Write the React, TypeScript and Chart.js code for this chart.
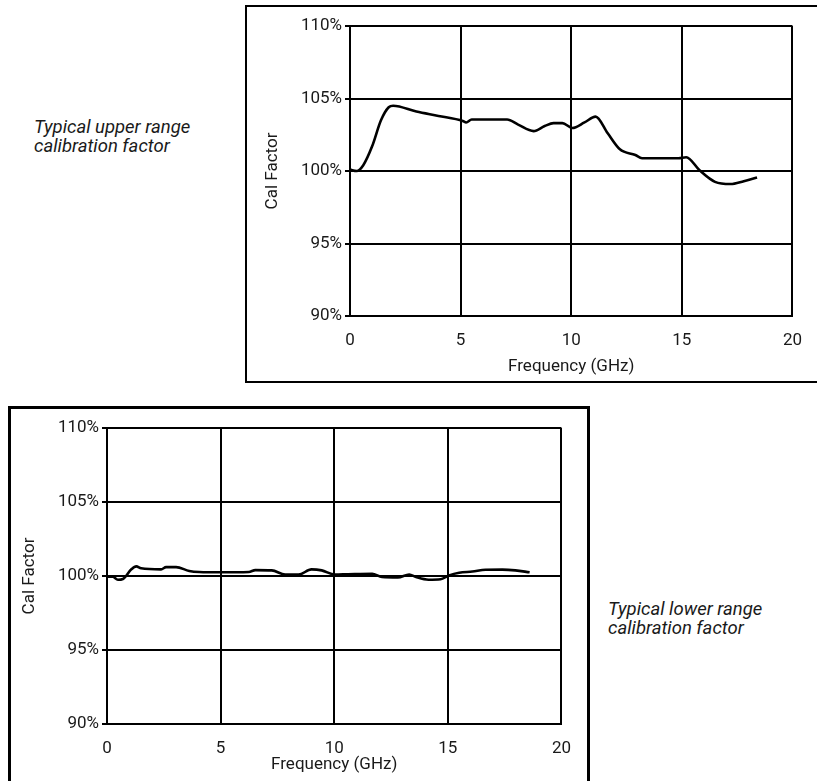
import React, { useEffect, useRef } from "react";
import { Chart, registerables } from "chart.js";

Chart.register(...registerables);

// ---- data ----
const upperFreq = [0, 0.3, 0.6, 1.0, 1.4, 1.75, 1.95, 3, 4, 5.1, 5.25, 5.5, 6.5, 7.1, 7.6, 8.3, 8.8, 9.2, 9.6, 10.05, 10.6, 11.1, 11.65, 12.2, 12.9, 13.2, 14, 14.85, 15.2, 15.8, 16.5, 17.2, 17.8, 18.4];
const upperCal = [100.1, 100.0, 100.4, 101.7, 103.5, 104.4, 104.5, 104.1, 103.8, 103.45, 103.35, 103.55, 103.55, 103.55, 103.2, 102.75, 103.1, 103.3, 103.3, 102.97, 103.35, 103.75, 102.6, 101.5, 101.1, 100.88, 100.88, 100.88, 100.95, 100.05, 99.25, 99.1, 99.3, 99.55];

const lowerFreq = [0, 0.25, 0.48, 0.7, 1.07, 1.29, 1.5, 2.38, 2.6, 3.04, 3.62, 4.06, 5, 6.24, 6.53, 7.25, 7.84, 8.43, 9.0, 9.45, 10.03, 10.6, 11.67, 12.1, 12.8, 13.3, 13.6, 14.15, 14.68, 15.05, 15.5, 16.08, 16.66, 17.4, 17.97, 18.6];
const lowerCal = [99.95, 99.95, 99.75, 99.8, 100.45, 100.65, 100.52, 100.45, 100.6, 100.6, 100.34, 100.27, 100.25, 100.27, 100.4, 100.38, 100.1, 100.09, 100.45, 100.38, 100.1, 100.12, 100.15, 99.93, 99.9, 100.1, 99.93, 99.75, 99.78, 100.04, 100.22, 100.3, 100.42, 100.43, 100.38, 100.25];

const xTicks = [0, 5, 10, 15, 20];
const yTicks = [90, 95, 100, 105, 110];
const xTitle = "Frequency (GHz)";
const yTitle = "Cal Factor";
const upperNote = ["Typical upper range", "calibration factor"];
const lowerNote = ["Typical lower range", "calibration factor"];

const FONT = "'Liberation Sans Narrow', 'Arial Narrow', Roboto, sans-serif";
const INK = "#1a1a1a";
const FS = 17;

type Layout = {
  left: number; top: number; width: number; height: number;
  yAxisW: number; xAxisH: number; padTop: number; padRight: number;
  yTitlePad: number; xTitlePad: number;
};

function CalChart({ xs, ys, L }: { xs: number[]; ys: number[]; L: Layout }) {
  const ref = useRef<HTMLCanvasElement | null>(null);
  useEffect(() => {
    const ctx = ref.current!;
    const chart = new Chart(ctx, {
      type: "line",
      data: {
        datasets: [
          {
            data: xs.map((x, i) => ({ x, y: ys[i] })),
            borderColor: "#000",
            borderWidth: 2.6,
            pointRadius: 0,
            tension: 0.35,
            cubicInterpolationMode: "monotone",
            fill: false,
          },
        ],
      },
      options: {
        animation: false,
        responsive: false,
        maintainAspectRatio: false,
        layout: { padding: { left: 0, top: L.padTop, right: L.padRight, bottom: 0 } },
        plugins: { legend: { display: false }, tooltip: { enabled: false } },
        scales: {
          x: {
            type: "linear",
            min: 0,
            max: 20,
            afterBuildTicks: (s: any) => { s.ticks = xTicks.map((v) => ({ value: v })); },
            afterFit: (s: any) => { s.height = L.xAxisH; },
            grid: { color: "#000", lineWidth: 2, drawTicks: false },
            border: { color: "#000", width: 2 },
            ticks: { color: INK, font: { family: FONT, size: FS }, padding: 15, maxRotation: 0 },
            title: {
              display: true, text: xTitle, color: INK,
              font: { family: FONT, size: FS }, padding: { top: 0, bottom: L.xTitlePad },
            },
          },
          y: {
            type: "linear",
            min: 90,
            max: 110,
            afterBuildTicks: (s: any) => { s.ticks = yTicks.map((v) => ({ value: v })); },
            afterFit: (s: any) => { s.width = L.yAxisW; },
            grid: { color: "#000", lineWidth: 2, drawTicks: true, tickLength: 5 },
            border: { color: "#000", width: 2 },
            ticks: {
              color: INK, font: { family: FONT, size: FS }, padding: 3,
              callback: (v: any) => v + "%",
            },
            title: {
              display: true, text: yTitle, color: INK,
              font: { family: FONT, size: FS }, padding: { top: L.yTitlePad, bottom: 0 },
            },
          },
        },
      },
    } as any);
    return () => chart.destroy();
  }, []);
  return (
    <canvas
      ref={ref}
      width={L.width}
      height={L.height}
      style={{ position: "absolute", left: L.left, top: L.top, width: L.width, height: L.height }}
    />
  );
}

const noteStyle: React.CSSProperties = {
  position: "absolute",
  fontFamily: FONT,
  fontStyle: "italic",
  fontSize: 18.5,
  lineHeight: "19px",
  color: INK,
  whiteSpace: "nowrap",
};

export default function App() {
  const upperL: Layout = {
    left: 248, top: 8, width: 569, height: 373,
    yAxisW: 102, xAxisH: 65, padTop: 18, padRight: 14, yTitlePad: 15, xTitlePad: 4,
  };
  const lowerL: Layout = {
    left: 12, top: 410, width: 574, height: 371,
    yAxisW: 95, xAxisH: 57, padTop: 18, padRight: 23, yTitlePad: 8, xTitlePad: 6,
  };
  return (
    <div style={{ position: "fixed", left: 0, top: 0, width: 817, height: 781, overflow: "hidden", background: "#fff" }}>
      <div style={{ position: "absolute", left: 245, top: 5, width: 700, height: 378, border: "2px solid #000", boxSizing: "border-box" }} />
      <div style={{ position: "absolute", left: 8, top: 406, width: 582, height: 420, border: "3px solid #000", boxSizing: "border-box" }} />
      <CalChart xs={upperFreq} ys={upperCal} L={upperL} />
      <CalChart xs={lowerFreq} ys={lowerCal} L={lowerL} />
      <div style={{ ...noteStyle, left: 34, top: 118 }}>
        {upperNote[0]}<br />{upperNote[1]}
      </div>
      <div style={{ ...noteStyle, left: 608, top: 600 }}>
        {lowerNote[0]}<br />{lowerNote[1]}
      </div>
    </div>
  );
}
